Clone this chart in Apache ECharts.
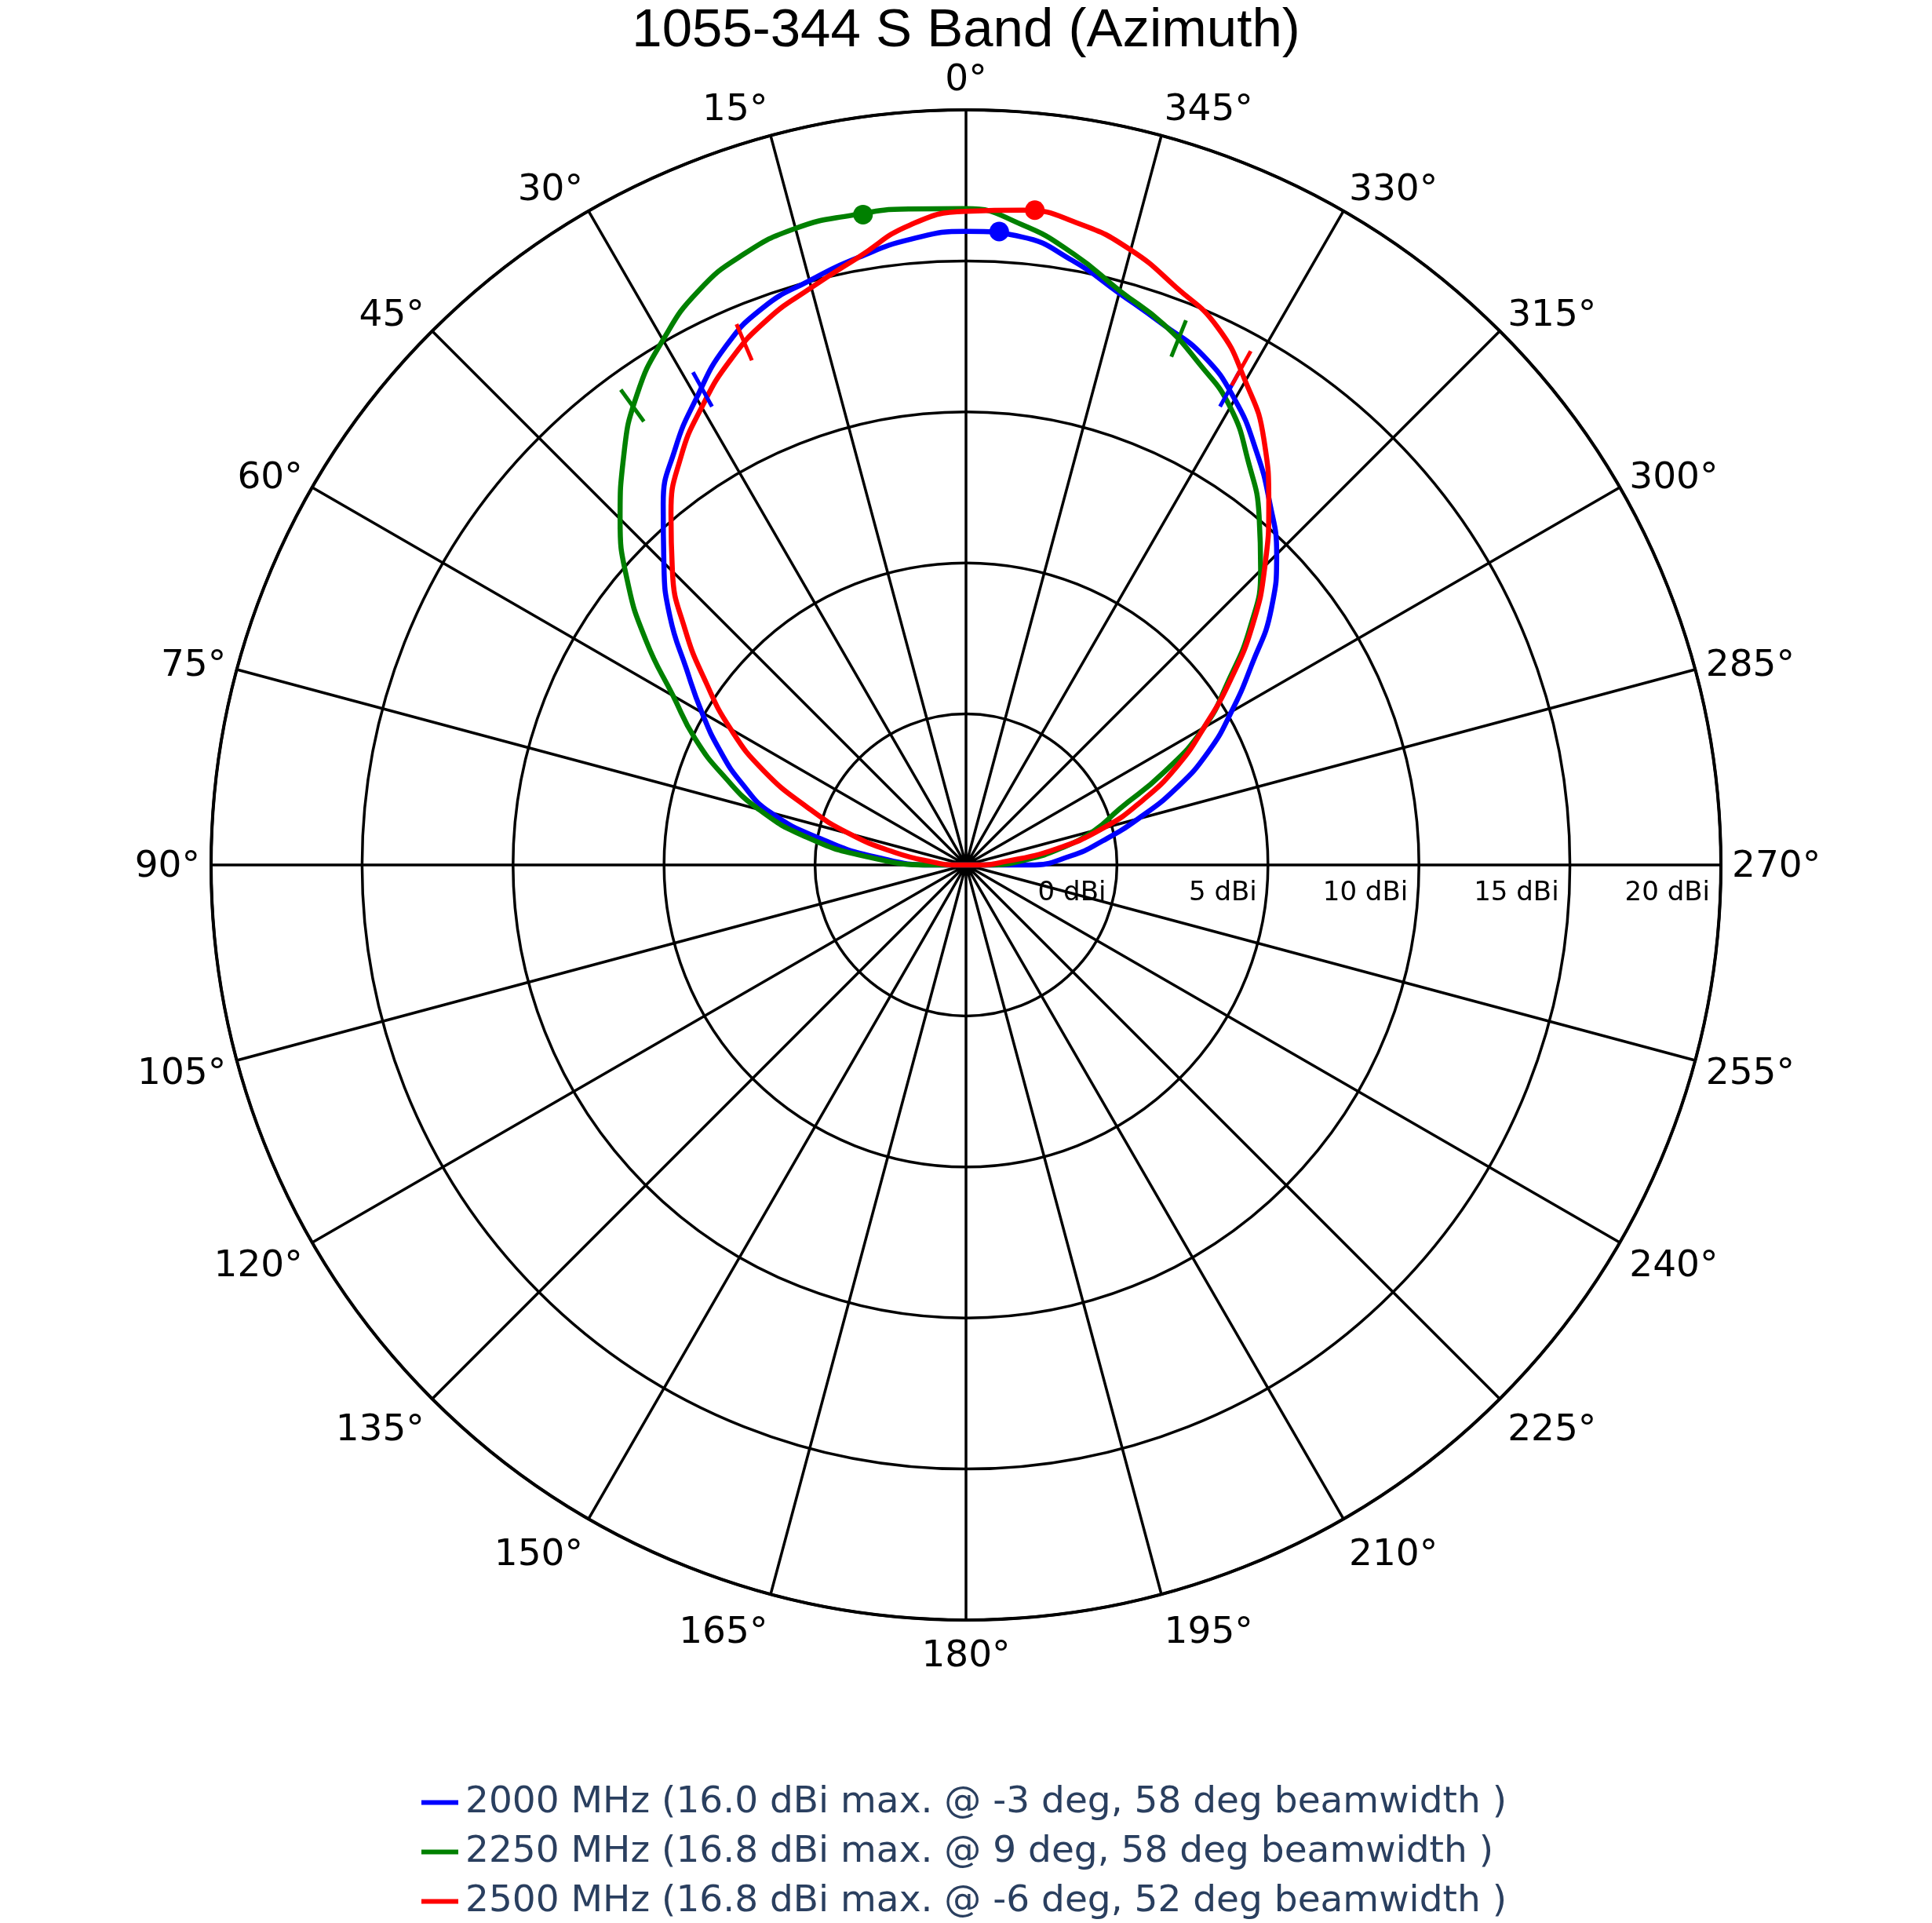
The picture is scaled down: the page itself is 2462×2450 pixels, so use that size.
<!DOCTYPE html>
<html>
<head>
<meta charset="UTF-8">
<title>1055-344 S Band (Azimuth)</title>
<script src="https://cdn.jsdelivr.net/npm/echarts@6.0.0/dist/echarts.min.js"></script>
<style>
  html, body { margin: 0; padding: 0; background: #fff; }
  #main { width: 2462px; height: 2450px; }
</style>
</head>
<body>
<div id="main"></div>
<script>
// azimuth in degrees: 0 = boresight (top), positive = to the left
var angles = [-95, -90, -85, -80, -75, -70, -65, -60, -55, -50, -45, -40, -35, -30, -25, -20, -15, -10, -5,
              0, 5, 10, 15, 20, 25, 30, 35, 40, 45, 50, 55, 60, 65, 70, 75, 80, 85, 90, 95];

// gain in dBi (-5 = plot centre)
var gain2000 = [-5, -2.9, -1.5, -0.4, 0.9, 2.4, 3.85, 5.15, 6.55, 8.2, 9.55, 10.65, 11.75, 12.8, 13.6, 14.05, 14.6, 15.32, 15.88,
                15.98, 15.8, 15.43, 15.03, 14.64, 13.9, 12.85, 11.8, 10.6, 9.15, 7.8, 6.3, 5.1, 4.0, 2.9, 1.7, -0.2, -2.0, -3.9, -5];
var gain2250 = [-5, -4.2, -3.0, -1.8, -0.6, 0.4, 2.2, 4.1, 5.6, 7.3, 8.8, 10.1, 11.3, 12.5, 13.3, 14.07, 14.68, 15.54, 16.28,
                16.73, 16.8, 16.84, 16.82, 16.52, 15.97, 15.07, 14.0, 12.64, 11.2, 9.64, 7.93, 6.2, 4.9, 3.5, 2.1, 0.4, -1.6, -3.9, -5];
var gain2500 = [-5, -4.6, -3.7, -2.0, -0.3, 1.2, 2.7, 4.1, 5.7, 7.4, 9.0, 10.6, 12.2, 13.5, 14.67, 15.35, 16.08, 16.56, 16.76,
                16.64, 16.27, 15.44, 14.79, 14.22, 13.45, 12.5, 11.47, 10.2, 8.75, 7.15, 5.5, 4.0, 2.4, 0.6, -1.0, -2.6, -3.9, -4.7, -5];

// max gain point [angle, gain]
var peak2000 = [-3, 16.0];
var peak2250 = [9, 16.8];
var peak2500 = [-6, 16.8];

// -3 dB beam edges (angles) and the gain there
var edges2000 = [-29, 29];
var edges2250 = [-22, 36];
var edges2500 = [-29, 23];
var edgeGain = [13.0, 13.8, 13.8];

// angular tick labels
var angleTicks = [0, 15, 30, 45, 60, 75, 90, 105, 120, 135, 150, 165,
                  180, 195, 210, 225, 240, 255, 270, 285, 300, 315, 330, 345];

var names = [
  '2000 MHz (16.0 dBi max. @ -3 deg, 58 deg beamwidth )',
  '2250 MHz (16.8 dBi max. @ 9 deg, 58 deg beamwidth )',
  '2500 MHz (16.8 dBi max. @ -6 deg, 52 deg beamwidth )'
];
var colors = ['#0000ff', '#008000', '#ff0000'];

// polar axis starts at 3 o'clock here, so shift the azimuth by 90
function toAxis(a) {
  return ((a + 90) % 360 + 360) % 360;
}

var gains = [gain2000, gain2250, gain2500];
var peaks = [peak2000, peak2250, peak2500];
var edges = [edges2000, edges2250, edges2500];

var series = [];
for (var k = 0; k < 3; k++) {
  series.push({
    name: names[k],
    type: 'line',
    coordinateSystem: 'polar',
    smooth: 0.5,
    showSymbol: false,
    data: angles.map(function (a, i) { return [gains[k][i], toAxis(a)]; }),
    lineStyle: { color: colors[k], width: 6.5 },
    itemStyle: { color: colors[k] },
    z: 3
  });
  series.push({
    type: 'scatter',
    coordinateSystem: 'polar',
    symbolSize: 25,
    data: [[peaks[k][1], toAxis(peaks[k][0])]],
    itemStyle: { color: colors[k], opacity: 1 },
    z: 4
  });
  for (var e = 0; e < edges[k].length; e++) {
    series.push({
      type: 'line',
      coordinateSystem: 'polar',
      showSymbol: false,
      data: [[edgeGain[k] - 0.65, toAxis(edges[k][e])], [edgeGain[k] + 0.65, toAxis(edges[k][e])]],
      lineStyle: { color: colors[k], width: 5 },
      z: 4
    });
  }
}

// angular labels sit just outside the rim, anchored the way the original plot does it
var labelSize = 47, labelPad = 14;
series.push({
  type: 'scatter',
  coordinateSystem: 'polar',
  silent: true,
  symbolSize: 1,
  itemStyle: { color: 'rgba(0,0,0,0)', opacity: 1 },
  data: angleTicks.map(function (t) {
    var rad = toAxis(t) * Math.PI / 180;
    var c = Math.cos(rad), s = Math.sin(rad);
    var ff = s > 0 ? 0.2 : 1;
    var baseY = -s * (labelPad + labelSize * ff) + Math.abs(c) * labelSize * 0.35;
    return {
      value: [20, toAxis(t)],
      label: {
        align: Math.abs(c) < 0.1 ? 'center' : (c > 0 ? 'left' : 'right'),
        offset: [c * labelPad, baseY - labelSize * 0.3]
      }
    };
  }),
  label: {
    show: true,
    position: 'inside',
    verticalAlign: 'middle',
    fontSize: labelSize,
    fontFamily: 'DejaVu Sans',
    color: '#000000',
    opacity: 1,
    formatter: function (p) { return angleTicks[p.dataIndex] + '°'; }
  },
  z: 5
});

var chart = echarts.init(document.getElementById('main'));
chart.setOption({
  animation: false,
  backgroundColor: '#fff',
  title: {
    text: '1055-344 S Band (Azimuth)',
    left: 'center',
    top: 0,
    textStyle: { fontFamily: 'Liberation Sans', fontSize: 69, fontWeight: 'normal', color: '#000' }
  },
  legend: {
    data: names,
    orient: 'vertical',
    left: 537,
    top: 2273,
    padding: 0,
    icon: 'rect',
    itemWidth: 47,
    itemHeight: 6,
    itemGap: 16,
    textStyle: { fontFamily: 'DejaVu Sans', fontSize: 47, lineHeight: 47, color: '#2a3f5f', padding: [0, 0, 0, 4] }
  },
  polar: {
    center: [1231, 1102],
    radius: 962
  },
  angleAxis: {
    type: 'value',
    min: 0,
    max: 360,
    interval: 15,
    startAngle: 0,
    clockwise: false,
    axisLine: { lineStyle: { color: '#000', width: 4 } },
    axisTick: { show: false },
    axisLabel: { show: false },
    splitLine: { show: true, lineStyle: { color: '#000', width: 3.5 } }
  },
  radiusAxis: {
    type: 'value',
    min: -5,
    max: 20,
    interval: 5,
    axisLine: { show: false },
    axisTick: { show: false },
    axisLabel: {
      showMinLabel: false,
      formatter: '{value} dBi',
      fontSize: 34,
      fontFamily: 'DejaVu Sans',
      color: '#000',
      align: 'right',
      verticalAlign: 'top',
      margin: -19,
      padding: [0, 14, 0, 0]
    },
    splitLine: { show: true, lineStyle: { color: '#000', width: 3.5 } }
  },
  series: series
});
</script>
</body>
</html>
